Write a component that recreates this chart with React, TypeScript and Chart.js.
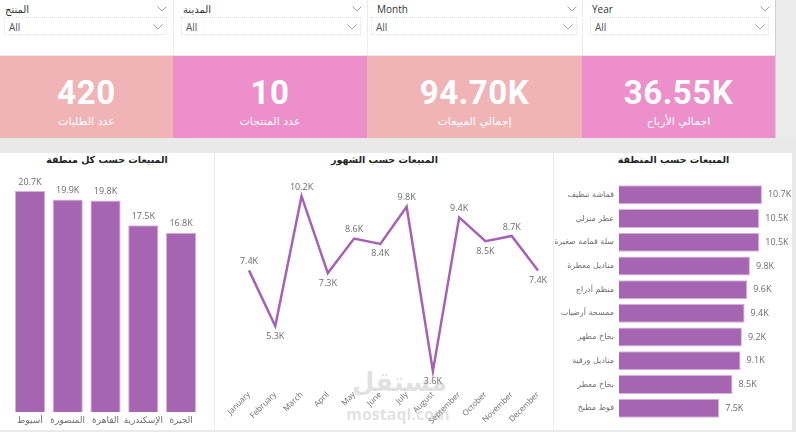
import React, { useEffect, useRef } from 'react';
import { Chart, registerables } from 'chart.js';

Chart.register(...registerables);

// ---------- data ----------
const filterLabels = ['المنتج', 'المدينة', 'Month', 'Year'];
const filterValues = ['All', 'All', 'All', 'All'];

const kpiValues = ['420', '10', '94.70K', '36.55K'];
const kpiLabels = ['عدد الطلبات', 'عدد المنتجات', 'إجمالي المبيعات', 'اجمالي الأرباح'];

const regionTitle = 'المبيعات حسب كل منطقة';
const regionLabels = ['أسيوط', 'المنصورة', 'القاهرة', 'الإسكندرية', 'الجيزة'];
const regionSales = [20.7, 19.9, 19.8, 17.5, 16.8];

const monthTitle = 'المبيعات حسب الشهور';
const monthLabels = ['January', 'February', 'March', 'April', 'May', 'June', 'July', 'August', 'September', 'October', 'November', 'December'];
const monthSales = [7.4, 5.3, 10.2, 7.3, 8.6, 8.4, 9.8, 3.6, 9.4, 8.5, 8.7, 7.4];
const monthLabelSide = ['above', 'below', 'above', 'below', 'above', 'below', 'above', 'below', 'above', 'below', 'above', 'below'];

const productTitle = 'المبيعات حسب المنطقة';
const productLabels = ['قماشة تنظيف', 'عطر منزلي', 'سلة قمامة صغيرة', 'مناديل معطرة', 'منظم أدراج', 'ممسحة أرضيات', 'بخاخ مطهر', 'مناديل ورقية', 'بخاخ معطر', 'فوط مطبخ'];
const productSales = [10.7, 10.5, 10.5, 9.8, 9.6, 9.4, 9.2, 9.1, 8.5, 7.5];

// ---------- styles ----------
const FONT = "'Open Sans', 'DejaVu Sans', sans-serif";
const BAR = '#a565b0';
const BAR_BORDER = '#d7b3dd';
const LINE = '#a660b6';
const PINK_A = '#f0b4b7';
const PINK_B = '#ec8fca';
const LABEL_GRAY = '#6b6b6b';

const fmt = (v: number) => v.toFixed(1) + 'K';

function makeLabelPlugin(kind: 'top' | 'right' | 'alt') {
  return {
    id: 'valueLabels_' + kind,
    afterDatasetsDraw(chart: any) {
      const ctx = chart.ctx;
      const meta = chart.getDatasetMeta(0);
      const data = chart.data.datasets[0].data as number[];
      ctx.save();
      ctx.font = `9px ${FONT}`;
      ctx.fillStyle = LABEL_GRAY;
      meta.data.forEach((el: any, i: number) => {
        const text = fmt(data[i]);
        if (kind === 'top') {
          ctx.textAlign = 'center';
          ctx.textBaseline = 'middle';
          ctx.fillText(text, el.x, el.y - 9);
        } else if (kind === 'right') {
          ctx.textAlign = 'left';
          ctx.textBaseline = 'middle';
          ctx.fillText(text, el.x + 6, el.y);
        } else {
          ctx.textAlign = 'center';
          ctx.textBaseline = 'middle';
          const dy = monthLabelSide[i] === 'above' ? -9 : 10;
          ctx.fillText(text, el.x, el.y + dy);
        }
      });
      ctx.restore();
    },
  };
}

function useChart(ref: React.RefObject<HTMLCanvasElement>, build: () => any) {
  useEffect(() => {
    if (!ref.current) return;
    const chart = new Chart(ref.current, build());
    return () => chart.destroy();
  }, []);
}

function RegionChart() {
  const ref = useRef<HTMLCanvasElement>(null);
  useChart(ref, () => ({
    type: 'bar',
    data: {
      labels: regionLabels,
      datasets: [{ data: regionSales, backgroundColor: BAR, borderColor: BAR_BORDER, borderWidth: 1, categoryPercentage: 0.8, barPercentage: 1 }],
    },
    options: {
      animation: false,
      responsive: false,
      layout: { padding: { top: 22, left: 11, right: 14, bottom: 0 } },
      plugins: { legend: { display: false }, tooltip: { enabled: false } },
      scales: {
        x: {
          grid: { display: false, drawTicks: false },
          border: { display: false },
          ticks: { color: LABEL_GRAY, font: { size: 9, family: FONT }, padding: 3, maxRotation: 0, autoSkip: false },
          afterFit: (s: any) => { s.height = 18; },
        },
        y: { display: false, min: 0, max: 22.2 },
      },
    },
    plugins: [makeLabelPlugin('top')],
  }));
  return <canvas ref={ref} width={214} height={277} style={{ position: 'absolute', left: 0, top: 153, width: 214, height: 277 }} />;
}

function MonthChart() {
  const ref = useRef<HTMLCanvasElement>(null);
  useChart(ref, () => ({
    type: 'line',
    data: {
      labels: monthLabels,
      datasets: [{ data: monthSales, borderColor: LINE, borderWidth: 2.5, pointRadius: 0, tension: 0, fill: false }],
    },
    options: {
      animation: false,
      responsive: false,
      layout: { padding: { top: 22, left: 35, right: 15, bottom: 0 } },
      plugins: { legend: { display: false }, tooltip: { enabled: false } },
      scales: {
        x: {
          offset: false,
          grid: { display: false, drawTicks: false },
          border: { display: false },
          ticks: { color: LABEL_GRAY, font: { size: 8, family: FONT }, padding: 3, minRotation: 45, maxRotation: 45, autoSkip: false },
          afterFit: (s: any) => { s.height = 43; },
        },
        y: { display: false, min: 3, max: 11 },
      },
    },
    plugins: [makeLabelPlugin('alt')],
  }));
  return <canvas ref={ref} width={339} height={277} style={{ position: 'absolute', left: 214, top: 153, width: 339, height: 277 }} />;
}

function ProductChart() {
  const ref = useRef<HTMLCanvasElement>(null);
  useChart(ref, () => ({
    type: 'bar',
    data: {
      labels: productLabels,
      datasets: [{ data: productSales, backgroundColor: BAR, borderColor: BAR_BORDER, borderWidth: 1, categoryPercentage: 0.8, barPercentage: 1 }],
    },
    options: {
      indexAxis: 'y',
      animation: false,
      responsive: false,
      layout: { padding: { top: 30, left: 0, right: 2, bottom: 10 } },
      plugins: { legend: { display: false }, tooltip: { enabled: false } },
      scales: {
        x: { display: false, min: 0, max: 12.8 },
        y: {
          grid: { display: false, drawTicks: false },
          border: { display: false },
          ticks: { color: LABEL_GRAY, font: { size: 8, family: "'DejaVu Sans', sans-serif" }, padding: 5, autoSkip: false },
          afterFit: (s: any) => { s.width = 66; },
        },
      },
    },
    plugins: [makeLabelPlugin('right')],
  }));
  return <canvas ref={ref} width={239} height={277} style={{ position: 'absolute', left: 553, top: 153, width: 239, height: 277 }} />;
}

function Chevron({ left, top }: { left: number; top: number }) {
  return (
    <svg width={10} height={6} style={{ position: 'absolute', left, top }}>
      <polyline points="0.5,0.5 5,5 9.5,0.5" fill="none" stroke="#888" strokeWidth={0.8} />
    </svg>
  );
}

const filterPanels = [
  { x: 0, w: 173, lx: 5, bx: 4, br: 6 },
  { x: 173, w: 194, lx: 9, bx: 7, br: 7 },
  { x: 367, w: 215, lx: 9, bx: 3, br: 6 },
  { x: 582, w: 193, lx: 9, bx: 7, br: 7 },
];
const kpiPanels = [
  { x: 0, w: 173, c: PINK_A },
  { x: 173, w: 194, c: PINK_B },
  { x: 367, w: 215, c: PINK_A },
  { x: 582, w: 193, c: PINK_B },
];
const chartPanels = [
  { x: 0, w: 214, title: regionTitle },
  { x: 214, w: 339, title: monthTitle },
  { x: 553, w: 239, title: productTitle },
];

export default function App() {
  return (
    <div style={{ position: 'fixed', left: 0, top: 0, width: 796, height: 432, overflow: 'hidden', background: '#e9e9e9', fontFamily: FONT }}>
      {/* scroll strip */}
      <div style={{ position: 'absolute', left: 775, top: 0, width: 1, height: 138, background: '#cfcfcf' }} />
      <div style={{ position: 'absolute', left: 776, top: 0, width: 20, height: 138, background: '#ececec' }} />

      {/* filters */}
      {filterPanels.map((p, i) => (
        <div key={'f' + i} style={{ position: 'absolute', left: p.x, top: 0, width: p.w, height: 55, background: '#fff', borderLeft: i > 0 ? '1px solid #ececec' : 'none', boxSizing: 'border-box' }}>
          <div style={{ position: 'absolute', left: p.lx, top: 2, fontSize: 10, color: '#333', whiteSpace: 'nowrap' }}>{filterLabels[i]}</div>
          <Chevron left={p.w - 16} top={6} />
          <div style={{ position: 'absolute', left: p.bx, top: 17, width: p.w - p.bx - p.br, height: 18, border: '1px dotted #e2e2e2', boxSizing: 'border-box' }}>
            <div style={{ position: 'absolute', left: 4, top: 2, fontSize: 10, color: '#555' }}>{filterValues[i]}</div>
            <Chevron left={p.w - p.bx - p.br - 15} top={6} />
          </div>
        </div>
      ))}

      {/* KPI cards */}
      {kpiPanels.map((p, i) => (
        <div key={'k' + i} style={{ position: 'absolute', left: p.x, top: 56, width: p.w, height: 82, background: p.c }}>
          <div style={{ position: 'absolute', left: 0, width: p.w, top: 17, textAlign: 'center', fontFamily: "Roboto, 'DejaVu Sans', sans-serif", fontWeight: 700, fontSize: 33, color: '#fff', lineHeight: '40px', letterSpacing: 0.5 }}>{kpiValues[i]}</div>
          <div style={{ position: 'absolute', left: 0, width: p.w, top: 58, textAlign: 'center', fontSize: 11, color: '#fff', lineHeight: '16px', fontFamily: "'DejaVu Sans', sans-serif" }}>{kpiLabels[i]}</div>
        </div>
      ))}

      {/* chart panels */}
      {chartPanels.map((p, i) => (
        <div key={'c' + i} style={{ position: 'absolute', left: p.x, top: 153, width: p.w, height: 277, background: '#fff', borderLeft: i > 0 ? '1px solid #ececec' : 'none', boxSizing: 'border-box' }}>
          <div style={{ position: 'absolute', left: 0, width: p.w, top: 1, textAlign: 'center', fontSize: 9.5, fontWeight: 700, color: '#252423', fontFamily: "'DejaVu Sans', sans-serif" }}>{p.title}</div>
        </div>
      ))}

      <RegionChart />
      <MonthChart />
      <ProductChart />

      {/* watermark */}
      <div style={{ position: 'absolute', left: 352, top: 368, width: 94, textAlign: 'center', fontSize: 26, fontWeight: 700, color: 'rgba(170,170,170,0.35)', fontFamily: "'DejaVu Sans', sans-serif", lineHeight: '28px' }}>مستقل</div>
      <div style={{ position: 'absolute', left: 346, top: 404, width: 104, textAlign: 'center', fontSize: 16, fontWeight: 700, color: 'rgba(170,170,170,0.35)', fontFamily: "'Open Sans', sans-serif", lineHeight: '20px' }}>mostaql.com</div>
    </div>
  );
}
